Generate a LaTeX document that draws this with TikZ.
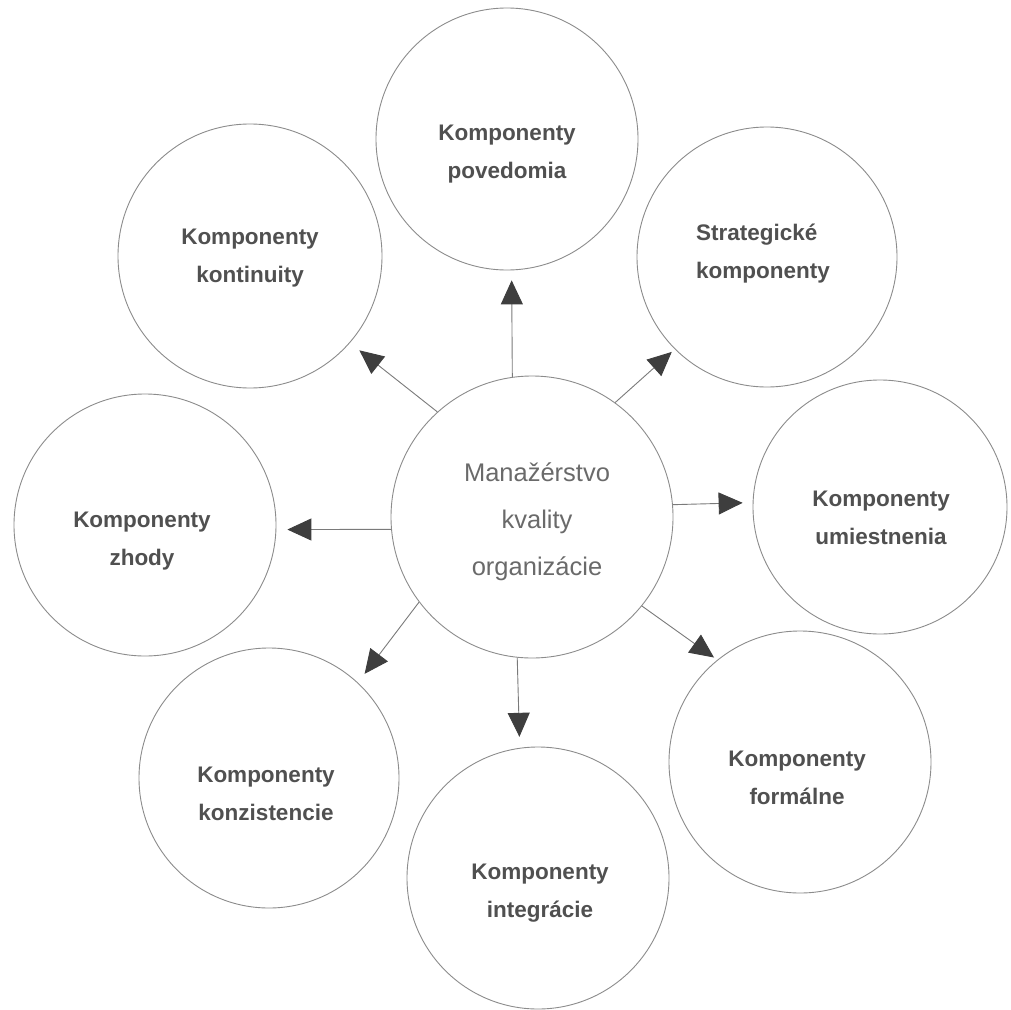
\documentclass[tikz,border=0pt]{standalone}
\usepackage{fontspec}
\setmainfont{Liberation Sans}
\usetikzlibrary{arrows.meta}
\definecolor{circc}{HTML}{8C8C8C}
\definecolor{linec}{HTML}{7A7A7A}
\definecolor{headc}{HTML}{3E3E3E}
\definecolor{labc}{HTML}{505050}
\definecolor{cenc}{HTML}{6A6A6A}
\begin{document}
\begin{tikzpicture}[x=1pt,y=-1pt,
  bub/.style={circle,draw=circc,line width=0.9pt,inner sep=0pt,minimum size=#1},
  lbl/.style={font=\bfseries\fontsize{22.5}{38}\selectfont,text=labc,align=center,inner sep=0pt},
  cen/.style={font=\fontsize{25.5}{47}\selectfont,text=cenc,align=center,inner sep=0pt},
  arr/.style={draw=linec,line width=0.9pt,-{Triangle[length=24pt,width=22pt,color=headc]}}]
\useasboundingbox[fill=white] (0,0) rectangle (1011,1009);
% circles
\node[bub=282pt] (c) at (532,517) {};
\node[bub=262pt] (t1) at (507,139) {};
\node[bub=264pt] (t2) at (250,256) {};
\node[bub=260pt] (t3) at (767,257) {};
\node[bub=262pt] (t4) at (145,525) {};
\node[bub=254pt] (t5) at (880,507) {};
\node[bub=260pt] (t6) at (269,778) {};
\node[bub=262pt] (t7) at (538,878) {};
\node[bub=262pt] (t8) at (800,762) {};
% labels
\node[cen] (lc) at (537,522) {Manažérstvo\\kvality\\organizácie};
\node[lbl] (l1) at (507,154) {Komponenty\\povedomia};
\node[lbl] (l2) at (250,258) {Komponenty\\kontinuity};
\node[lbl,align=left] (l3) at (763,254) {Strategické\\komponenty};
\node[lbl] (l4) at (142,541) {Komponenty\\zhody};
\node[lbl] (l5) at (881,518) {Komponenty\\umiestnenia};
\node[lbl] (l6) at (266,794) {Komponenty\\konzistencie};
\node[lbl] (l7) at (540,893) {Komponenty\\integrácie};
\node[lbl] (l8) at (797,778) {Komponenty\\formálne};
% arrows
\draw[arr,shorten >=10pt] (c.98.5) -- (t1.-88.4);
\draw[arr,shorten >=12pt] (c.132.4) -- (t2.-41.3);
\draw[arr,shorten >=4pt] (c.54.6) -- (t3.225.6);
\draw[arr,shorten >=10pt] (c.5.3) -- (t5.178.7);
\draw[arr,shorten >=11pt] (c.185.3) -- (t4.-2);
\draw[arr,shorten >=11pt] (c.217.7) -- (t6.47);
\draw[arr,shorten >=11pt] (c.264.4) -- (t7.98.1);
\draw[arr,shorten >=4pt] (c.-39.6) -- (t8.129);
\end{tikzpicture}
\end{document}
